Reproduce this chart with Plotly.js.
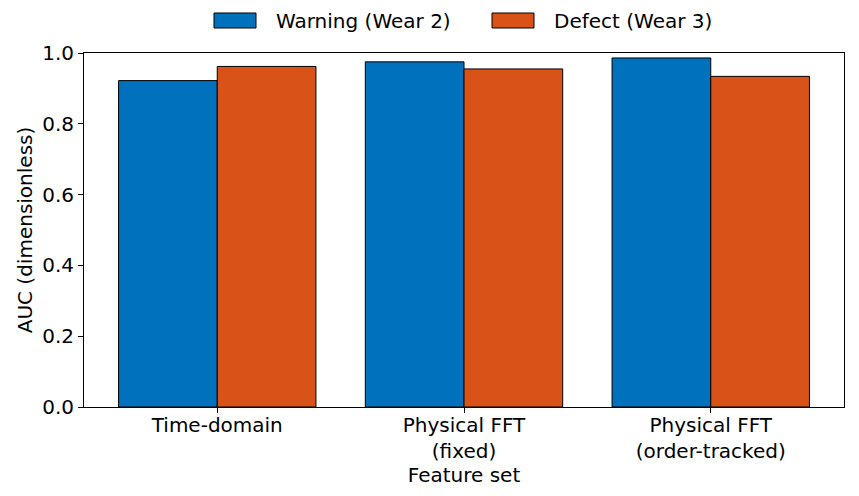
<!DOCTYPE html>
<html>
<head>
<meta charset="utf-8">
<script src="https://cdn.plot.ly/plotly-3.0.1.min.js"></script>
<style>
  html, body { margin: 0; padding: 0; background: #fff; }
  #plot { width: 859px; height: 496px; }
</style>
</head>
<body>
<div id="plot"></div>
<script>
  const categories = [
    "Time-domain",
    "Physical FFT<br>(fixed)",
    "Physical FFT<br>(order-tracked)"
  ];
  const seriesNames = ["Warning (Wear 2)", "Defect (Wear 3)"];
  const warningAuc = [0.922, 0.975, 0.986];
  const defectAuc = [0.962, 0.955, 0.934];
  const yTicks = [0, 0.2, 0.4, 0.6, 0.8, 1.0];

  const FONT = "DejaVu Sans, sans-serif";
  const COLORS = ["#0072BD", "#D95319"];

  // plot box in pixels, used to place the hand-made legend above it
  const W = 859, H = 496;
  const M = { l: 84, r: 15, t: 53, b: 89 };
  const plotW = W - M.l - M.r;
  const plotH = H - M.t - M.b;
  const px = v => (v - M.l) / plotW;
  const py = v => (H - M.b - v) / plotH;

  const traces = [warningAuc, defectAuc].map((vals, i) => ({
    type: "bar",
    name: seriesNames[i],
    x: categories,
    y: vals,
    marker: { color: COLORS[i], line: { color: "#000", width: 1 } },
    hoverinfo: "skip",
    showlegend: false
  }));

  // matplotlib-like legend: wide swatches with a black edge
  const legendItems = [
    { sx0: 214, sx1: 256, tx: 274 },
    { sx0: 492, sx1: 534, tx: 552 }
  ];
  const shapes = legendItems.map((it, i) => ({
    type: "rect",
    xref: "paper",
    yref: "paper",
    x0: px(it.sx0),
    x1: px(it.sx1),
    y0: py(28),
    y1: py(13),
    fillcolor: COLORS[i],
    line: { color: "#000", width: 1 }
  }));
  const annotations = legendItems.map((it, i) => ({
    xref: "paper",
    yref: "paper",
    x: px(it.tx),
    y: py(20.5),
    xanchor: "left",
    yanchor: "middle",
    text: seriesNames[i],
    showarrow: false,
    font: { family: FONT, size: 20, color: "#000" }
  }));

  const layout = {
    width: W,
    height: H,
    margin: M,
    paper_bgcolor: "#fff",
    plot_bgcolor: "#fff",
    font: { family: FONT, size: 20, color: "#000" },
    barmode: "group",
    bargap: 0.2,
    bargroupgap: 0,
    showlegend: false,
    shapes,
    annotations,
    xaxis: {
      type: "category",
      range: [-0.54, 2.54],
      showline: true,
      mirror: true,
      linecolor: "#000",
      linewidth: 1,
      ticks: "outside",
      ticklen: 5,
      tickcolor: "#000",
      ticklabelstandoff: -5,
      showgrid: false,
      zeroline: false,
      automargin: false,
      tickfont: { family: FONT, size: 20 },
      title: { text: "Feature set", font: { family: FONT, size: 20 }, standoff: 0 }
    },
    yaxis: {
      range: [0, 1.0],
      tickvals: yTicks,
      tickformat: ".1f",
      showline: true,
      mirror: true,
      linecolor: "#000",
      linewidth: 1,
      ticks: "outside",
      ticklen: 5,
      tickcolor: "#000",
      showgrid: false,
      zeroline: false,
      automargin: false,
      tickfont: { family: FONT, size: 20 },
      title: { text: "AUC (dimensionless)", font: { family: FONT, size: 20 }, standoff: 4 }
    }
  };

  Plotly.newPlot("plot", traces, layout, { displayModeBar: false, staticPlot: true });
</script>
</body>
</html>
